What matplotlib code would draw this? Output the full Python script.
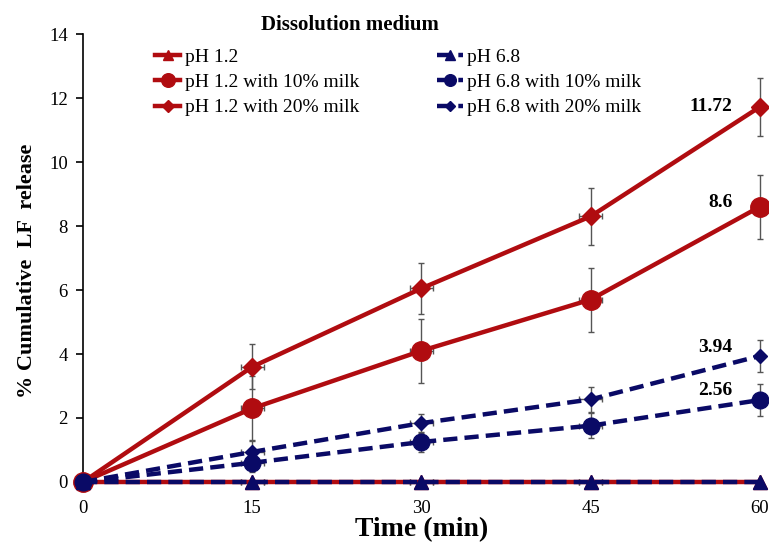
import matplotlib
matplotlib.use("Agg")
import matplotlib.pyplot as plt

time = [0, 15, 30, 45, 60]
ph12 = [0, 0, 0, 0, 0]
ph12_10 = [0, 2.3, 4.1, 5.7, 8.6]
ph12_20 = [0, 3.6, 6.05, 8.3, 11.72]
ph68 = [0, 0, 0, 0, 0]
ph68_10 = [0, 0.6, 1.25, 1.76, 2.56]
ph68_20 = [0, 0.94, 1.84, 2.58, 3.94]

err12_10 = [0, 1.0, 1.0, 1.0, 1.0]
err12_20 = [0, 0.7, 0.8, 0.9, 0.9]
err68_10 = [0, 0.3, 0.3, 0.4, 0.5]
err68_20 = [0, 0.35, 0.3, 0.4, 0.5]
xerr = [0, 1, 1, 1, 0]

labels = ["pH 1.2", "pH 1.2 with 10% milk", "pH 1.2 with 20% milk",
          "pH 6.8", "pH 6.8 with 10% milk", "pH 6.8 with 20% milk"]
end_labels = ["11.72", "8.6", "3.94", "2.56"]

red = "#B00C10"
navy = "#0A0A66"
serif = ["Liberation Serif", "DejaVu Serif"]
plt.rcParams["font.family"] = serif

fig = plt.figure(figsize=(7.69, 5.45), dpi=100)
ax = fig.add_axes([0.108, 0.1156, 0.880, 0.822])

def draw(y, err, color, marker, ms, ls, label):
    ax.errorbar(time, y, yerr=err, xerr=xerr, fmt="none", ecolor="#555555",
                elinewidth=1, capsize=2.5, capthick=1, zorder=2, clip_on=False)
    return ax.plot(time, y, color=color, lw=3.2, ls=ls, marker=marker, ms=ms,
                   label=label, zorder=3, clip_on=False,
                   dashes=(3.2, 1.6) if ls == "--" else (None, None))[0]

h = []
h.append(draw(ph12, [0]*5, red, "^", 10, "-", labels[0]))
h.append(draw(ph12_10, err12_10, red, "o", 14, "-", labels[1]))
h.append(draw(ph12_20, err12_20, red, "D", 9, "-", labels[2]))
h.append(draw(ph68, [0]*5, navy, "^", 10, "--", labels[3]))
h.append(draw(ph68_10, err68_10, navy, "o", 12, "--", labels[4]))
h.append(draw(ph68_20, err68_20, navy, "D", 7, "--", labels[5]))

ax.set_xlim(0, 60)
ax.set_ylim(0, 14)
ax.set_xticks(time)
ax.set_yticks(range(0, 15, 2))
for s in ["top", "right", "bottom"]:
    ax.spines[s].set_visible(False)
ax.spines["left"].set_linewidth(1.2)
ax.tick_params(axis="y", direction="out", length=5, width=1.2, labelsize=13.5, pad=6)
ax.tick_params(axis="x", length=0, labelsize=13.5, pad=13)

ax.set_xlabel("Time (min)", fontsize=20, fontweight="bold", labelpad=0)
ax.set_ylabel("% Cumulative  LF  release", fontsize=16, fontweight="bold")
ax.yaxis.set_label_coords(-0.068, 0.471)

ends = [ph12_20[-1], ph12_10[-1], ph68_20[-1], ph68_10[-1]]
offs = [0, 0.15, 0.25, 0.3]
for lab, v, o in zip(end_labels, ends, offs):
    ax.text(57.6, v + o, lab, ha="right", va="center", fontsize=14,
            fontweight="bold")

fig.text(350 / 769, 1 - 25 / 545, "Dissolution medium", ha="center", va="center",
         fontsize=15, fontweight="bold")

leg = fig.legend(handles=h, ncol=2, loc="upper left",
                 bbox_to_anchor=(155 / 769, 1 - 48 / 545),
                 bbox_transform=fig.transFigure,
                 frameon=False, fontsize=14, borderpad=0, borderaxespad=0,
                 handlelength=1.3, handletextpad=0.25, columnspacing=4.0,
                 labelspacing=0.4, markerscale=0.7)

fig.savefig("out.png", dpi=100)
